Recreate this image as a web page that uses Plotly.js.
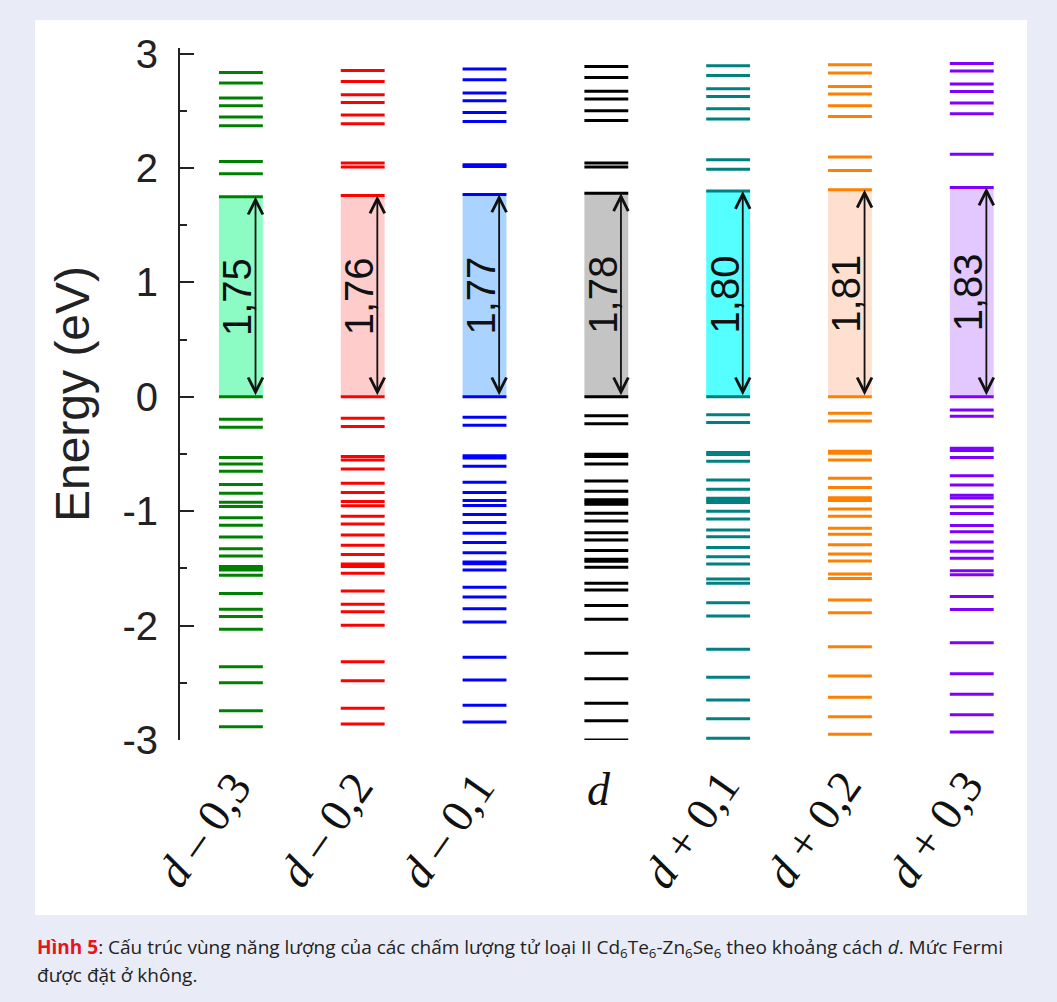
<!DOCTYPE html>
<html>
<head>
<meta charset="utf-8">
<script src="https://cdn.plot.ly/plotly-3.0.1.min.js"></script>
<style>
  html, body { margin: 0; padding: 0; background: #e9ecf6; }
  #panel { position: absolute; left: 35px; top: 20px; width: 992px; height: 895px; background: #ffffff; }
  #chart { position: absolute; left: 0; top: 0; width: 1057px; height: 1002px; }
</style>
</head>
<body>
<div id="panel"></div>
<div id="chart"></div>
<script>
// ---- data ----
const categories = ['d-0.3', 'd-0.2', 'd-0.1', 'd', 'd+0.1', 'd+0.2', 'd+0.3'];
const xLabels = ['<i>d</i> – 0,3', '<i>d</i> – 0,2', '<i>d</i> – 0,1', '<i>d</i>', '<i>d</i> + 0,1', '<i>d</i> + 0,2', '<i>d</i> + 0,3'];
const gaps = [1.75, 1.76, 1.77, 1.78, 1.80, 1.81, 1.83];
const yTickVals = [-3, -2, -1, 0, 1, 2, 3];
const yTickText = ['-3', '-2', '-1', '0', '1', '2', '3'];

const levelsDm03 = [2.836, 2.743, 2.612, 2.545, 2.446, 2.37, 2.058, 1.95, 1.75, 0, -0.195, -0.265, -0.53, -0.586, -0.65, -0.767, -0.843, -0.921, -0.959, -1.056, -1.123, -1.225, -1.327, -1.391, -1.484, -1.5, -1.513, -1.56, -1.72, -1.857, -1.921, -2.032, -2.359, -2.499, -2.744, -2.884];
const levelsDm02 = [2.854, 2.758, 2.641, 2.574, 2.464, 2.388, 2.044, 2.009, 1.76, 0, -0.187, -0.26, -0.522, -0.551, -0.63, -0.755, -0.837, -0.915, -0.953, -1.044, -1.111, -1.207, -1.298, -1.379, -1.461, -1.484, -1.542, -1.697, -1.814, -1.878, -1.997, -2.315, -2.481, -2.723, -2.86];
const levelsDm01 = [2.866, 2.773, 2.656, 2.589, 2.487, 2.408, 2.03, 2.013, 1.77, 0, -0.178, -0.248, -0.515, -0.535, -0.606, -0.746, -0.837, -0.907, -0.95, -1.029, -1.099, -1.193, -1.274, -1.362, -1.443, -1.46, -1.513, -1.665, -1.749, -1.852, -1.968, -2.277, -2.475, -2.697, -2.843];
const levelsD = [2.889, 2.793, 2.671, 2.604, 2.502, 2.417, 2.044, 2.009, 1.78, 0, -0.166, -0.236, -0.501, -0.522, -0.586, -0.735, -0.825, -0.9, -0.92, -0.939, -1.018, -1.085, -1.187, -1.251, -1.344, -1.42, -1.437, -1.49, -1.63, -1.688, -1.825, -1.944, -2.242, -2.464, -2.679, -2.831, -3.0];
const levelsDp01 = [2.895, 2.81, 2.694, 2.627, 2.519, 2.429, 2.073, 1.991, 1.80, 0, -0.157, -0.225, -0.487, -0.505, -0.563, -0.726, -0.808, -0.886, -0.905, -0.924, -1.0, -1.067, -1.163, -1.222, -1.318, -1.397, -1.461, -1.592, -1.63, -1.799, -1.916, -2.207, -2.452, -2.65, -2.814, -2.985];
const levelsDp02 = [2.904, 2.831, 2.714, 2.648, 2.545, 2.452, 2.096, 1.98, 1.81, 0, -0.143, -0.21, -0.475, -0.493, -0.551, -0.711, -0.793, -0.883, -0.907, -0.98, -1.044, -1.149, -1.201, -1.294, -1.373, -1.434, -1.548, -1.589, -1.776, -1.887, -2.184, -2.44, -2.627, -2.796, -2.95];
const levelsDp03 = [2.915, 2.85, 2.735, 2.67, 2.57, 2.475, 2.12, 1.83, 0, -0.115, -0.17, -0.45, -0.47, -0.53, -0.69, -0.77, -0.86, -0.885, -0.96, -1.02, -1.125, -1.18, -1.27, -1.35, -1.41, -1.52, -1.555, -1.745, -1.86, -2.15, -2.42, -2.6, -2.78, -2.93];

const allLevels = [levelsDm03, levelsDm02, levelsDm01, levelsD, levelsDp01, levelsDp02, levelsDp03];
const lineColors = ['#008000', '#ff0000', '#0000ff', '#000000', '#008080', '#ff8000', '#8000ff'];
const fillColors = ['#8cfcc4', '#ffcccc', '#aad4ff', '#c4c4c4', '#55ffff', '#ffe0d0', '#e2c8ff'];

// ---- build ----
const halfW = 0.18;
const traces = allLevels.map((lv, i) => {
  const xs = [], ys = [];
  lv.forEach(e => { xs.push(i - halfW, i + halfW, null); ys.push(e, e, null); });
  return { type: 'scatter', mode: 'lines', x: xs, y: ys, line: { color: lineColors[i], width: 3 },
           hoverinfo: 'skip', showlegend: false, name: categories[i] };
});

const shapes = gaps.map((g, i) => ({
  type: 'rect', xref: 'x', yref: 'y', x0: i - halfW, x1: i + halfW, y0: 0, y1: g,
  fillcolor: fillColors[i], line: { width: 0 }, layer: 'below'
}));

const annotations = [];
gaps.forEach((g, i) => {
  annotations.push({ xref: 'x', yref: 'y', x: i + 0.12, y: g, axref: 'x', ayref: 'y', ax: i + 0.12, ay: 0,
    text: '', showarrow: true, arrowside: 'end+start', arrowhead: 5, arrowsize: 1.6, arrowwidth: 1.8, arrowcolor: '#111' });
  annotations.push({ xref: 'x', yref: 'y', x: i - 0.03, y: g / 2, text: g.toFixed(2).replace('.', ','),
    textangle: -90, showarrow: false, xanchor: 'center', yanchor: 'middle',
    font: { family: 'Liberation Sans, Arial', size: 40, color: '#111' } });
});
xLabels.forEach((t, i) => {
  if (categories[i] === 'd') {
    annotations.push({ xref: 'x', yref: 'paper', x: i - 0.06, y: -0.072, text: t, showarrow: false,
      xanchor: 'center', yanchor: 'middle', font: { family: 'Liberation Serif, Times New Roman', size: 46, color: '#111' } });
  } else {
    annotations.push({ xref: 'x', yref: 'paper', x: i - 0.3, y: -0.13, text: t, showarrow: false, textangle: -55,
      xanchor: 'center', yanchor: 'middle', font: { family: 'Liberation Serif, Times New Roman', size: 46, color: '#111' } });
  }
});
annotations.push({ xref: 'paper', yref: 'paper', x: -0.1747, y: -0.3006, xanchor: 'left', yanchor: 'middle', showarrow: false, align: 'left',
  text: '<b><span style="color:#e8141c">Hình 5</span></b>: Cấu trúc vùng năng lượng của các chấm lượng tử loại II Cd<sub>6</sub>Te<sub>6</sub>-Zn<sub>6</sub>Se<sub>6</sub> theo khoảng cách <i>d</i>. Mức Fermi',
  font: { family: 'Open Sans, Noto Sans', size: 19, color: '#222' } });
annotations.push({ xref: 'paper', yref: 'paper', x: -0.1747, y: -0.3396, xanchor: 'left', yanchor: 'middle', showarrow: false, align: 'left',
  text: 'được đặt ở không.', font: { family: 'Open Sans, Noto Sans', size: 19, color: '#222' } });

const layout = {
  width: 1057, height: 1002,
  margin: { l: 180, r: 47, t: 48, b: 262 },
  paper_bgcolor: 'rgba(0,0,0,0)', plot_bgcolor: 'rgba(0,0,0,0)',
  showlegend: false,
  xaxis: { range: [-0.5, 6.314], visible: false, fixedrange: true },
  yaxis: {
    range: [-3, 3.05], tickvals: yTickVals, ticktext: yTickText,
    ticks: 'inside', ticklen: 14, tickwidth: 2, tickcolor: '#222',
    minor: { dtick: 0.5, ticks: 'inside', ticklen: 7, tickwidth: 2, tickcolor: '#222' },
    showline: true, linewidth: 2, linecolor: '#222', showgrid: false, zeroline: false,
    ticklabelstandoff: 12,
    tickfont: { family: 'Liberation Sans, Arial', size: 40, color: '#222' },
    title: { text: 'Energy (eV)', standoff: 18, font: { family: 'Liberation Sans, Arial', size: 48, color: '#222' } }
  },
  shapes: shapes,
  annotations: annotations
};

Plotly.newPlot('chart', traces, layout, { staticPlot: true, displayModeBar: false });
</script>
</body>
</html>
